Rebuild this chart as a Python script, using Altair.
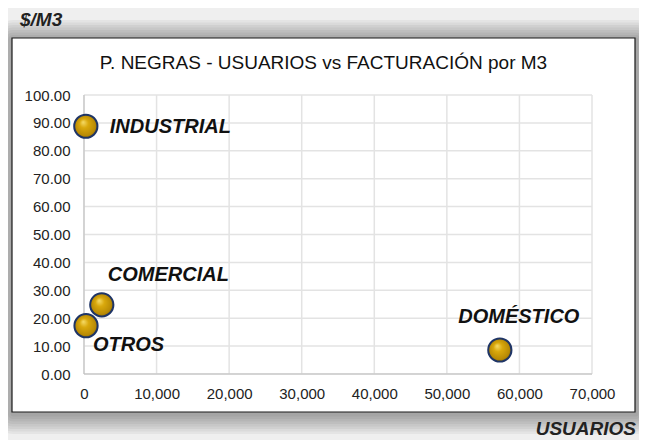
import altair as alt
import pandas as pd

categories = ["INDUSTRIAL", "COMERCIAL", "OTROS", "DOMÉSTICO"]
usuarios = [250, 2450, 280, 57300]
facturacion_m3 = [88.8, 24.8, 17.3, 8.6]

x_ticks = [0, 10000, 20000, 30000, 40000, 50000, 60000, 70000]
y_ticks = [0, 10, 20, 30, 40, 50, 60, 70, 80, 90, 100]

df = pd.DataFrame({"cat": categories, "usuarios": usuarios, "fact": facturacion_m3})
one = pd.DataFrame({"k": [0]})
xgrid = pd.DataFrame({"usuarios": x_ticks})
ygrid = pd.DataFrame({"fact": y_ticks})

W, H = 508, 279
PL, PT = 76, 87
TOTAL_W, TOTAL_H = 631, 432

base = alt.Chart(df)
deco = alt.Chart(one)

xs = alt.Scale(domain=[0, 70000], nice=False, zero=True)
ys = alt.Scale(domain=[0, 100], nice=False)

x_axis = alt.Axis(values=x_ticks, format=",.0f", title=None,
                  labelFont="Liberation Sans", labelFontSize=15,
                  labelColor="#222222", labelPadding=12,
                  ticks=False, domain=False, grid=False, zindex=1,
                  labelFlush=False, labelOverlap=False)
y_axis = alt.Axis(values=y_ticks, format=".2f", title=None,
                  labelFont="Liberation Sans", labelFontSize=15,
                  labelColor="#222222", labelPadding=14,
                  ticks=False, domain=False, grid=False, zindex=1,
                  labelFlush=False, labelOverlap=False)
x_enc = alt.X("usuarios:Q", scale=xs, axis=x_axis)
y_enc = alt.Y("fact:Q", scale=ys, axis=y_axis)

# frame: glow/shadow and white box (decorative)
box_l, box_r, box_t, box_b = 12 - 8 - PL, 635 - 8 - PL, 38 - 8 - PT, 412 - 8 - PT
layers = []
for i in range(8, 0, -1):
    d = i * 2.5
    layers.append(deco.mark_rect(fill="black", opacity=0.045, cornerRadius=d).encode(
        x=alt.value(box_l - d + 1), x2=alt.value(box_r + d + 1),
        y=alt.value(box_t - d + 2), y2=alt.value(box_b + d + 2)))
layers.append(deco.mark_rect(fill="white", stroke="#1a1a1a", strokeWidth=1.2).encode(
    x=alt.value(box_l), x2=alt.value(box_r), y=alt.value(box_t), y2=alt.value(box_b)))

# gridlines and axis lines drawn above the white box
vgrid = alt.Chart(xgrid).mark_rule(color="#e3e3e3", strokeWidth=1.5).encode(
    x=x_enc, y=alt.value(0), y2=alt.value(H))
hgrid = alt.Chart(ygrid).mark_rule(color="#e3e3e3", strokeWidth=1.5).encode(
    y=y_enc, x=alt.value(0), x2=alt.value(W))
xdom = deco.mark_rule(color="#bdbdbd", strokeWidth=1).encode(
    x=alt.value(0), x2=alt.value(W), y=alt.value(H))
ydom = deco.mark_rule(color="#bdbdbd", strokeWidth=1).encode(
    x=alt.value(0), y=alt.value(0), y2=alt.value(H))

grad = alt.RadialGradient(
    gradient="radial",
    x1=0.38, y1=0.32, r1=0.0,
    x2=0.5, y2=0.5, r2=0.55,
    stops=[alt.GradientStop(offset=0, color="#f6dc6a"),
           alt.GradientStop(offset=0.35, color="#d9a80c"),
           alt.GradientStop(offset=0.8, color="#b88a05"),
           alt.GradientStop(offset=1, color="#7a5a00")])

points = base.mark_point(shape="circle", filled=True, size=540, fill=grad,
                         stroke="#1f3566", strokeWidth=2, opacity=1).encode(x=x_enc, y=y_enc)

lab_style = dict(font="Liberation Sans", fontSize=20, fontWeight="bold",
                 fontStyle="italic", color="#111111", baseline="middle")

def lab(cat, align, dx, dy):
    return base.transform_filter(alt.datum.cat == cat).mark_text(
        align=align, dx=dx, dy=dy, **lab_style).encode(
        x=x_enc, y=y_enc, text="cat:N")

labels = [
    lab("INDUSTRIAL", "left", 24, 1),
    lab("COMERCIAL", "left", 6, -30),
    lab("OTROS", "left", 7, 19),
    lab("DOMÉSTICO", "center", 19, -33),
]

title_txt = deco.mark_text(font="Liberation Sans", fontSize=19, color="#111111",
                           align="center", baseline="middle").encode(
    x=alt.value((12 + 635) / 2 - 8 - PL), y=alt.value(63 - 8 - PT),
    text=alt.value("P. NEGRAS - USUARIOS vs FACTURACIÓN por M3"))

ylab = deco.mark_text(font="Liberation Sans", fontSize=19, fontWeight="bold",
                      fontStyle="italic", color="#222222", align="left",
                      baseline="alphabetic").encode(
    x=alt.value(20 - 8 - PL), y=alt.value(26 - 8 - PT), text=alt.value("$/M3"))

xlab = deco.mark_text(font="Liberation Sans", fontSize=19, fontWeight="bold",
                      fontStyle="italic", color="#222222", align="right",
                      baseline="alphabetic").encode(
    x=alt.value(636 - 8 - PL), y=alt.value(435 - 8 - PT), text=alt.value("USUARIOS"))

chart = alt.layer(*layers, vgrid, hgrid, xdom, ydom, points, *labels,
                  title_txt, ylab, xlab).properties(
    width=W, height=H,
    autosize=alt.AutoSizeParams(type="none"),
    padding={"left": PL, "top": PT, "right": TOTAL_W - PL - W, "bottom": TOTAL_H - PT - H},
    background="#efefef",
).configure_view(stroke=None)

chart.save("out.html", embed_options={"renderer": "svg", "actions": False})
